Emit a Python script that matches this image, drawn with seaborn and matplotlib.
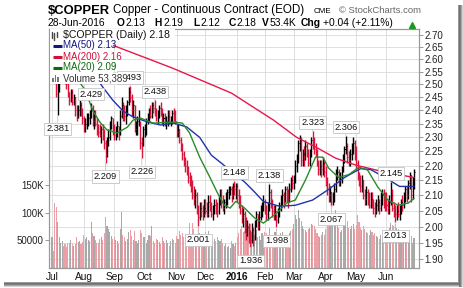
import numpy as np
import pandas as pd
import matplotlib
matplotlib.use("Agg")
import matplotlib.pyplot as plt
from matplotlib.ticker import FixedLocator, NullLocator, FixedFormatter
from matplotlib.patches import Rectangle
from matplotlib.lines import Line2D
import seaborn as sns

# ---------------- data ----------------
holidays = ["2015-07-03", "2015-09-07", "2015-11-26", "2015-12-25", "2016-01-01",
            "2016-01-18", "2016-02-15", "2016-03-25", "2016-05-30"]

close = [
    # Jul
    2.60, 2.59, 2.55, 2.46, 2.48, 2.53, 2.55, 2.56, 2.54, 2.51, 2.50, 2.47, 2.44, 2.47, 2.43, 2.45, 2.40, 2.38, 2.40, 2.42, 2.39, 2.37,
    # Aug
    2.34, 2.35, 2.36, 2.37, 2.38, 2.41, 2.36, 2.38, 2.35, 2.33, 2.32, 2.31, 2.33, 2.30, 2.28, 2.24, 2.28, 2.30, 2.35, 2.37, 2.33,
    # Sep
    2.31, 2.32, 2.34, 2.31, 2.38, 2.42, 2.39, 2.38, 2.40, 2.43, 2.47, 2.45, 2.40, 2.42, 2.33, 2.34, 2.36, 2.37, 2.28, 2.27, 2.33,
    # Oct
    2.33, 2.36, 2.37, 2.40, 2.38, 2.42, 2.41, 2.39, 2.37, 2.39, 2.41, 2.40, 2.36, 2.37, 2.35, 2.36, 2.38, 2.36, 2.37, 2.39, 2.38, 2.36,
    # Nov
    2.32, 2.33, 2.29, 2.27, 2.24, 2.22, 2.20, 2.19, 2.16, 2.15, 2.14, 2.10, 2.09, 2.10, 2.06, 2.03, 2.06, 2.05, 2.04, 2.06,
    # Dec
    2.05, 2.04, 2.08, 2.07, 2.04, 2.05, 2.07, 2.06, 2.05, 2.09, 2.10, 2.08, 2.06, 2.08, 2.10, 2.11, 2.12, 2.12, 2.10, 2.13, 2.12, 2.13,
    # Jan
    2.10, 2.09, 2.05, 2.03, 2.04, 2.00, 1.98, 2.00, 1.97, 1.96, 1.99, 1.96, 2.01, 2.04, 2.00, 2.03, 2.05, 2.06, 2.08,
    # Feb
    2.06, 2.04, 2.06, 2.11, 2.08, 2.05, 2.04, 2.05, 2.02, 2.05, 2.07, 2.09, 2.10, 2.08, 2.12, 2.10, 2.09, 2.12, 2.15, 2.14,
    # Mar
    2.15, 2.20, 2.22, 2.28, 2.29, 2.22, 2.24, 2.23, 2.27, 2.25, 2.21, 2.24, 2.29, 2.28, 2.26, 2.24, 2.21, 2.19, 2.20, 2.19, 2.21, 2.18,
    # Apr
    2.15, 2.12, 2.10, 2.11, 2.08, 2.09, 2.12, 2.17, 2.18, 2.15, 2.16, 2.19, 2.22, 2.26, 2.27, 2.23, 2.22, 2.24, 2.26, 2.28, 2.24,
    # May
    2.21, 2.16, 2.14, 2.13, 2.15, 2.10, 2.09, 2.11, 2.08, 2.07, 2.09, 2.08, 2.06, 2.05, 2.07, 2.08, 2.06, 2.09, 2.10, 2.09, 2.08,
    # Jun
    2.07, 2.06, 2.08, 2.10, 2.06, 2.05, 2.04, 2.05, 2.04, 2.06, 2.08, 2.07, 2.10, 2.12, 2.10, 2.14, 2.17, 2.10, 2.14, 2.18,
]

high = [
    2.63, 2.62, 2.58, 2.55, 2.52, 2.54, 2.56, 2.57, 2.57, 2.56, 2.53, 2.51, 2.47, 2.48, 2.48, 2.46, 2.45, 2.42, 2.42, 2.44, 2.43, 2.41,
    2.38, 2.37, 2.39, 2.39, 2.40, 2.429, 2.42, 2.40, 2.40, 2.37, 2.35, 2.35, 2.34, 2.35, 2.33, 2.29, 2.30, 2.33, 2.36, 2.38, 2.37,
    2.35, 2.34, 2.36, 2.34, 2.40, 2.45, 2.43, 2.42, 2.42, 2.44, 2.49, 2.493, 2.46, 2.44, 2.42, 2.36, 2.38, 2.40, 2.36, 2.30, 2.34,
    2.35, 2.37, 2.39, 2.41, 2.42, 2.43, 2.43, 2.438, 2.41, 2.40, 2.42, 2.43, 2.41, 2.39, 2.39, 2.38, 2.40, 2.40, 2.38, 2.40, 2.41, 2.40,
    2.35, 2.35, 2.33, 2.30, 2.28, 2.25, 2.23, 2.22, 2.20, 2.18, 2.17, 2.15, 2.13, 2.12, 2.11, 2.07, 2.08, 2.08, 2.07, 2.09,
    2.09, 2.08, 2.10, 2.10, 2.08, 2.07, 2.09, 2.09, 2.08, 2.10, 2.12, 2.12, 2.10, 2.09, 2.11, 2.12, 2.13, 2.13, 2.13, 2.14, 2.148, 2.14,
    2.14, 2.12, 2.10, 2.07, 2.06, 2.05, 2.03, 2.02, 2.01, 1.99, 2.01, 2.00, 2.02, 2.05, 2.04, 2.05, 2.07, 2.08, 2.10,
    2.09, 2.07, 2.08, 2.138, 2.12, 2.09, 2.07, 2.07, 2.04, 2.06, 2.08, 2.10, 2.12, 2.11, 2.13, 2.13, 2.12, 2.14, 2.16, 2.17,
    2.17, 2.22, 2.24, 2.29, 2.31, 2.30, 2.26, 2.27, 2.29, 2.28, 2.26, 2.26, 2.30, 2.323, 2.30, 2.28, 2.26, 2.22, 2.22, 2.22, 2.23, 2.22,
    2.20, 2.16, 2.14, 2.13, 2.11, 2.11, 2.14, 2.19, 2.20, 2.19, 2.18, 2.20, 2.24, 2.27, 2.306, 2.28, 2.25, 2.26, 2.28, 2.30, 2.29,
    2.27, 2.22, 2.18, 2.17, 2.17, 2.15, 2.12, 2.13, 2.12, 2.11, 2.11, 2.11, 2.09, 2.08, 2.09, 2.10, 2.09, 2.11, 2.12, 2.12, 2.11,
    2.11, 2.09, 2.10, 2.145, 2.12, 2.08, 2.07, 2.07, 2.08, 2.07, 2.09, 2.10, 2.11, 2.13, 2.13, 2.15, 2.18, 2.17, 2.16, 2.19,
]

low = [
    2.58, 2.57, 2.52, 2.45, 2.381, 2.47, 2.52, 2.53, 2.53, 2.50, 2.48, 2.45, 2.42, 2.43, 2.42, 2.42, 2.38, 2.36, 2.37, 2.38, 2.38, 2.35,
    2.32, 2.32, 2.33, 2.34, 2.35, 2.37, 2.34, 2.33, 2.34, 2.31, 2.30, 2.30, 2.28, 2.29, 2.26, 2.209, 2.23, 2.27, 2.29, 2.33, 2.31,
    2.29, 2.29, 2.30, 2.29, 2.31, 2.37, 2.36, 2.36, 2.35, 2.38, 2.42, 2.43, 2.38, 2.37, 2.32, 2.31, 2.31, 2.34, 2.26, 2.226, 2.27,
    2.30, 2.31, 2.35, 2.36, 2.37, 2.37, 2.39, 2.38, 2.36, 2.35, 2.37, 2.38, 2.35, 2.34, 2.34, 2.33, 2.34, 2.35, 2.34, 2.35, 2.36, 2.35,
    2.30, 2.30, 2.28, 2.25, 2.22, 2.20, 2.18, 2.17, 2.14, 2.13, 2.11, 2.09, 2.07, 2.06, 2.04, 2.001, 2.02, 2.03, 2.02, 2.03,
    2.04, 2.03, 2.03, 2.05, 2.03, 2.02, 2.04, 2.04, 2.03, 2.04, 2.07, 2.06, 2.05, 2.04, 2.06, 2.07, 2.09, 2.10, 2.08, 2.09, 2.10, 2.09,
    2.08, 2.06, 2.04, 2.01, 2.00, 1.98, 1.96, 1.97, 1.95, 1.936, 1.95, 1.94, 1.96, 2.00, 1.99, 1.99, 2.02, 2.03, 2.05,
    2.04, 2.02, 2.02, 2.05, 2.06, 2.03, 2.02, 2.02, 1.998, 2.01, 2.03, 2.05, 2.07, 2.06, 2.08, 2.08, 2.06, 2.08, 2.11, 2.12,
    2.12, 2.14, 2.18, 2.21, 2.25, 2.20, 2.20, 2.20, 2.22, 2.23, 2.20, 2.20, 2.23, 2.26, 2.24, 2.23, 2.20, 2.17, 2.17, 2.16, 2.17, 2.16,
    2.13, 2.10, 2.08, 2.08, 2.067, 2.07, 2.08, 2.11, 2.15, 2.13, 2.13, 2.14, 2.18, 2.21, 2.24, 2.21, 2.20, 2.20, 2.22, 2.24, 2.22,
    2.19, 2.15, 2.13, 2.11, 2.11, 2.09, 2.07, 2.07, 2.07, 2.06, 2.06, 2.06, 2.04, 2.03, 2.04, 2.05, 2.04, 2.05, 2.07, 2.06, 2.05,
    2.05, 2.04, 2.04, 2.07, 2.05, 2.03, 2.013, 2.02, 2.03, 2.02, 2.04, 2.05, 2.06, 2.08, 2.08, 2.09, 2.12, 2.08, 2.09, 2.12,
]

volume_k = [
    56, 30, 117, 110, 82, 55, 45, 48, 40, 42, 38, 45, 44, 50, 43, 40, 42, 55, 46, 48, 42, 47,
    60, 52, 55, 50, 48, 83, 62, 58, 50, 45, 44, 52, 55, 50, 62, 92, 75, 70, 65, 58, 52,
    55, 50, 48, 42, 70, 101, 60, 55, 48, 52, 65, 68, 58, 50, 66, 48, 45, 50, 68, 62, 55,
    55, 45, 50, 60, 58, 75, 48, 45, 52, 50, 47, 42, 55, 48, 45, 50, 44, 40, 48, 52, 50, 45,
    58, 52, 66, 60, 62, 55, 60, 58, 55, 81, 60, 81, 70, 55, 60, 81, 62, 58, 40, 55,
    65, 60, 66, 58, 55, 50, 52, 48, 55, 50, 48, 52, 45, 40, 42, 38, 40, 35, 48, 42, 40, 45,
    55, 62, 70, 75, 65, 66, 72, 60, 75, 80, 65, 70, 60, 68, 55, 58, 50, 62, 58,
    65, 62, 60, 72, 60, 55, 58, 65, 70, 60, 58, 62, 65, 55, 60, 56, 58, 62, 66, 70,
    80, 95, 88, 105, 90, 85, 75, 70, 68, 65, 70, 72, 80, 78, 75, 70, 62, 58, 55, 60, 65, 60,
    70, 75, 81, 85, 99, 80, 75, 105, 90, 72, 65, 68, 98, 95, 90, 85, 72, 70, 75, 80, 70,
    78, 95, 82, 72, 68, 75, 70, 65, 62, 60, 68, 65, 60, 62, 58, 55, 52, 60, 55, 50, 58,
    65, 68, 72, 81, 78, 75, 80, 72, 70, 68, 65, 62, 60, 58, 65, 55, 52, 58, 45, 53,
]

# moving averages (trading-day number, value)
ma20_day = [0, 10, 20, 23, 28, 33, 38, 45, 52, 56, 61, 70, 84, 90, 95, 102, 109, 114, 119, 123,
            127, 133, 140, 146, 155, 162, 168, 175, 182, 187, 191, 198, 205, 212, 218, 225, 232, 239, 246, 250]
ma20_val = [2.62, 2.57, 2.50, 2.477, 2.40, 2.356, 2.327, 2.316, 2.337, 2.363, 2.371, 2.352, 2.356, 2.352, 2.316,
            2.23, 2.161, 2.111, 2.068, 2.059, 2.081, 2.059, 2.027, 2.011, 2.042, 2.075, 2.085, 2.151, 2.23, 2.23,
            2.192, 2.16, 2.17, 2.195, 2.185, 2.128, 2.085, 2.068, 2.075, 2.09]
ma50_day = [0, 15, 30, 35, 42, 49, 56, 66, 75, 84, 93, 102, 110, 117, 124, 133, 140, 146, 157, 168,
            180, 191, 202, 213, 220, 230, 240, 250]
ma50_val = [2.74, 2.64, 2.53, 2.489, 2.438, 2.397, 2.375, 2.356, 2.345, 2.352, 2.338, 2.30, 2.237, 2.209,
            2.18, 2.145, 2.111, 2.08, 2.065, 2.068, 2.085, 2.12, 2.16, 2.19, 2.187, 2.16, 2.13, 2.13]
ma200_day = [0, 6, 45, 83, 124, 140, 153, 169, 182, 196, 210, 230, 250]
ma200_val = [2.76, 2.73, 2.65, 2.564, 2.465, 2.408, 2.363, 2.30, 2.266, 2.226, 2.202, 2.178, 2.16]

price_ticks = [1.90, 1.95, 2.00, 2.05, 2.10, 2.15, 2.20, 2.25, 2.30, 2.35, 2.40, 2.45, 2.50, 2.55, 2.60, 2.65, 2.70]
vol_ticks = [50000, 100000, 150000]
vol_tick_labels = ["50000", "100K", "150K"]
month_labels = ["Jul", "Aug", "Sep", "Oct", "Nov", "Dec", "2016", "Feb", "Mar", "Apr", "May", "Jun"]

label_vals = [2.381, 2.429, 2.209, 2.226, 2.493, 2.438, 2.148, 2.001, 2.138, 1.936, 1.998, 2.323, 2.306, 2.067, 2.145, 2.013]
label_kind = ["low", "high", "low", "low", "high", "high", "high", "low", "high", "low", "low", "high", "high", "low", "high", "low"]

# ---------------- build ----------------
dates = pd.bdate_range("2015-07-01", "2016-06-28")
dates = dates[~dates.isin(pd.to_datetime(holidays))]
df = pd.DataFrame({"date": dates, "high": high, "low": low, "close": close,
                   "volume": np.array(volume_k) * 1000})
df["day"] = np.arange(len(df))
prev = np.r_[df["close"].values[0], df["close"].values[:-1]]
df["up"] = df["close"].values >= prev

month_first = df.groupby(df["date"].dt.to_period("M"))["day"].min().values

sns.set_theme(style="white")
plt.rcParams["font.family"] = ["Liberation Sans", "DejaVu Sans"]

W, H = 464, 288
fig = plt.figure(figsize=(W / 100, H / 100), dpi=100)
fig.patch.set_facecolor("white")


def fp(x, y):
    return x / W, 1 - y / H


L, R, T, B = 49, 419, 29, 267.5
ax_vol = fig.add_axes([L / W, 1 - B / H, (R - L) / W, (B - T) / H])
ax = ax_vol.twinx()
ax.patch.set_visible(False)
ax_vol.set_facecolor("white")

XMIN, XMAX = -2.07, 253.45
ax.set_yscale("log")
ax.set_ylim(1.876, 2.7255)
ax_vol.set_ylim(0, 434000)

# grid
grid_c = "#dedede"
for m in month_first:
    ax_vol.axvline(m, color=grid_c, lw=0.7, zorder=0.5)
for p in price_ticks:
    ax_vol.add_line(Line2D([XMIN, XMAX], [p, p], transform=ax.transData, color=grid_c, lw=0.7, zorder=0.5))

# volume
vcol = np.where(df["up"], "#a9a9a9", "#e9a0a7")
ax_vol.bar(df["day"], df["volume"], width=0.75, color=vcol, linewidth=0, zorder=2)

# price bars
pcol = np.where(df["up"], "#000000", "#dc143c")
ax.vlines(df["day"], df["low"], df["high"], colors=pcol, lw=1.0, zorder=3)
ax.hlines(df["close"], df["day"], df["day"] + 0.7, colors=pcol, lw=0.8, zorder=3)

# moving averages
sns.lineplot(x=ma200_day, y=ma200_val, ax=ax, color="#e8174b", lw=1.0, legend=False, zorder=4)
sns.lineplot(x=ma50_day, y=ma50_val, ax=ax, color="#2233aa", lw=1.0, legend=False, zorder=4)
sns.lineplot(x=ma20_day, y=ma20_val, ax=ax, color="#2a8a2a", lw=1.0, legend=False, zorder=4)

# high / low labels
for v, k in zip(label_vals, label_kind):
    arr = df["high"].values if k == "high" else df["low"].values
    d = int(np.argmin(np.abs(arr - v)))
    off = 8.5 if k == "high" else -13.5
    ax.annotate(f"{v:.3f}", xy=(d, v), xytext=(0, off), textcoords="offset pixels",
                ha="center", va="center", fontsize=6.7, color="#111111", zorder=6,
                bbox=dict(boxstyle="square,pad=0.18", fc="white", ec="#c4c4c4", lw=0.6),
                arrowprops=dict(arrowstyle="-", color="#c4c4c4", lw=0.6, shrinkA=0, shrinkB=0))

# axes cosmetics
ax_vol.set_xlim(XMIN, XMAX)
ax.set_xlim(XMIN, XMAX)
for a in (ax, ax_vol):
    for s in a.spines.values():
        s.set_color("#999999")
        s.set_linewidth(0.8)

ax.yaxis.set_major_locator(FixedLocator(price_ticks))
ax.yaxis.set_minor_locator(NullLocator())
ax.yaxis.set_major_formatter(FixedFormatter([f"{p:.2f}" for p in price_ticks]))
ax.yaxis.set_minor_formatter(FixedFormatter([]))
ax.tick_params(axis="y", which="major", direction="out", length=3, width=0.6, color="#888888",
               labelsize=7, pad=1, labelcolor="#222222", right=True)

ax_vol.yaxis.set_major_locator(FixedLocator(vol_ticks))
ax_vol.yaxis.set_major_formatter(FixedFormatter(vol_tick_labels))
ax_vol.tick_params(axis="y", direction="out", length=3, width=0.6, color="#888888",
                   labelsize=7, pad=1, labelcolor="#222222", left=True)

ax_vol.xaxis.set_major_locator(FixedLocator(month_first))
ax_vol.xaxis.set_major_formatter(FixedFormatter(month_labels))
ax_vol.tick_params(axis="x", length=0, labelsize=7.3, pad=3.5, labelcolor="#111111")
for t in ax_vol.get_xticklabels():
    if t.get_text() == "2016":
        t.set_fontweight("bold")
ax.tick_params(axis="x", bottom=False, labelbottom=False)

# ---------------- in-chart legend ----------------
rows = [  # (y center, x right edge of white backing)
    (34.5, 175), (45.5, 113), (56.5, 120), (67.5, 113), (78.5, 127)]
for yc, xr in rows:
    fig.add_artist(Rectangle(fp(49.6, yc + 5.5), (xr - 49.6) / W, 11 / H,
                             transform=fig.transFigure, fc="white", ec="none", zorder=5))

txt_kw = dict(transform=fig.transFigure, va="center", ha="left", zorder=7)
fig.text(*fp(63, 34.5), "$COPPER (Daily) 2.18", fontsize=7.6, color="#111111", **txt_kw)
fig.text(*fp(63, 45.5), "MA(50) 2.13", fontsize=7.0, color="#15157f", **txt_kw)
fig.text(*fp(63, 56.5), "MA(200) 2.16", fontsize=7.0, color="#d0103a", **txt_kw)
fig.text(*fp(63, 67.5), "MA(20) 2.09", fontsize=7.0, color="#0b6b0b", **txt_kw)
fig.text(*fp(63, 78.5), "Volume 53,389", fontsize=7.0, color="#333333", **txt_kw)

for yc, c in [(45.5, "#15157f"), (56.5, "#d0103a"), (67.5, "#0b6b0b")]:
    fig.add_artist(Line2D([53 / W, 62 / W], [1 - yc / H] * 2, transform=fig.transFigure,
                          color=c, lw=2.2, zorder=7, solid_capstyle="butt"))
# price-bar icon
for x0, y0, y1 in [(51.5, 31.5, 38), (54.5, 33, 40), (57.5, 31.5, 37)]:
    fig.add_artist(Line2D([x0 / W] * 2, [1 - y0 / H, 1 - y1 / H], transform=fig.transFigure,
                          color="#444444", lw=1.0, zorder=7))
# volume icon
for x0, h in [(53, 4), (55.5, 7), (58, 5.5)]:
    fig.add_artist(Rectangle(fp(x0 - 0.8, 82.5), 1.6 / W, h / H, transform=fig.transFigure,
                             fc="#777777", ec="none", zorder=7))

# ---------------- header ----------------
hk = dict(transform=fig.transFigure, va="baseline", ha="left")
fig.text(*fp(48, 14.5), "$COPPER", fontsize=9.4, fontweight="bold", color="#000000", **hk)
fig.text(*fp(113, 13.5), "Copper - Continuous Contract (EOD)", fontsize=8.4, color="#000000", **hk)
fig.text(*fp(314, 13.0), "CME", fontsize=5.8, color="#000000", **hk)
fig.text(*fp(339, 13.0), "\u00a9 StockCharts.com", fontsize=6.8, color="#666666", **hk)

line2 = [(48, "28-Jun-2016", "normal"), (117, "O", "bold"), (126, "2.13", "normal"),
         (154, "H", "bold"), (164, "2.19", "normal"), (193, "L", "bold"), (201, "2.12", "normal"),
         (229, "C", "bold"), (237, "2.18", "normal"), (262, "V", "bold"), (270, "53.4K", "normal"),
         (301, "Chg", "bold"), (323, "+0.04 (+2.11%)", "normal")]
for x, s, w in line2:
    fig.text(*fp(x, 26.5), s, fontsize=7.4, fontweight=w, color="#000000", **hk)
fig.add_artist(Line2D([412 / W], [1 - 24.5 / H], transform=fig.transFigure, marker="^",
                      markersize=4.2, color="#1a9a1a", lw=0, zorder=7))

# ---------------- frame shadow ----------------
for i, c in enumerate(["#9a9a9a", "#707070", "#808080", "#a8a8a8", "#d4d4d4"]):
    fig.add_artist(Rectangle(fp(458 + i, 287), 1 / W, 282 / H, transform=fig.transFigure,
                             fc=c, ec="none", zorder=8))
    fig.add_artist(Rectangle(fp(4, 282 + i + 1), 455 / W, 1 / H, transform=fig.transFigure,
                             fc=c, ec="none", zorder=8))

fig.savefig("out.png", dpi=100, facecolor="white")
